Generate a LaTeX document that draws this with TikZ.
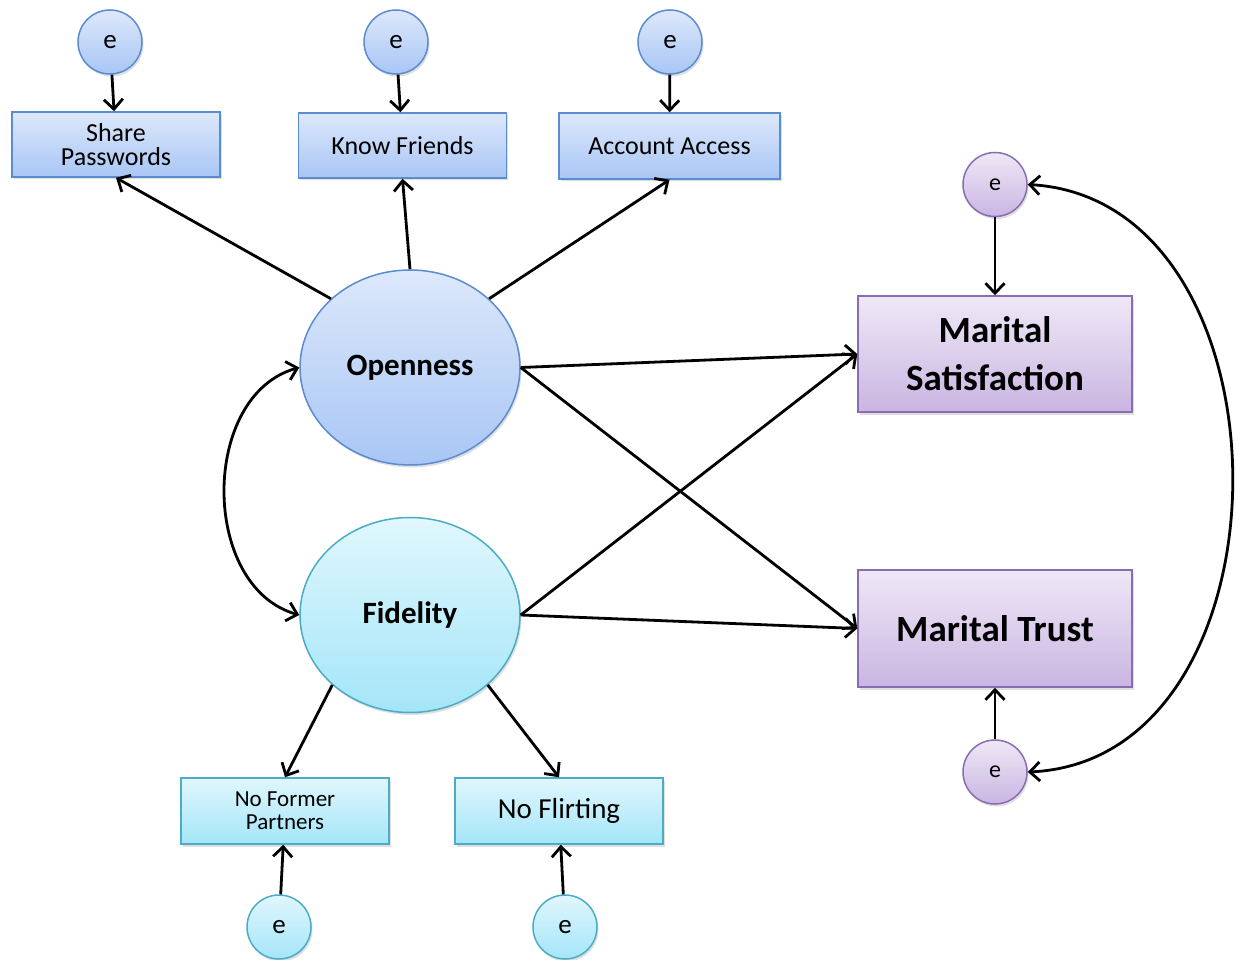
\documentclass[tikz,border=0pt]{standalone}
\usepackage{fontspec}
\setmainfont{Carlito}
\usetikzlibrary{shapes.geometric,arrows.meta,shadows}
\definecolor{bluetop}{HTML}{DDE8FB}
\definecolor{bluebot}{HTML}{A8C6F5}
\definecolor{blueedge}{HTML}{5B8BD0}
\definecolor{cyantop}{HTML}{E0F7FD}
\definecolor{cyanbot}{HTML}{A4E5F8}
\definecolor{cyanedge}{HTML}{4BACC6}
\definecolor{purptop}{HTML}{EEE8F6}
\definecolor{purpbot}{HTML}{CAB5E2}
\definecolor{purpedge}{HTML}{8A6CB0}
\tikzset{
  shd/.style={drop shadow={opacity=0.25,shadow xshift=1.5pt,shadow yshift=-2.5pt}},
  bluefill/.style={top color=bluetop,bottom color=bluebot,draw=blueedge,line width=1.5pt,shd},
  cyanfill/.style={top color=cyantop,bottom color=cyanbot,draw=cyanedge,line width=1.5pt,shd},
  purpfill/.style={top color=purptop,bottom color=purpbot,draw=purpedge,line width=1.5pt,shd},
  errc/.style={circle,minimum size=64pt,inner sep=0pt,font=\fontsize{27}{27}\selectfont},
  obsbox/.style={rectangle,minimum width=208pt,minimum height=65pt,inner sep=0pt,align=center,font=\fontsize{26}{24}\selectfont},
  latent/.style={ellipse,minimum width=220pt,minimum height=195pt,inner sep=0pt,font=\bfseries\fontsize{31}{31}\selectfont},
  outbox/.style={rectangle,minimum width=274pt,minimum height=116pt,inner sep=0pt,align=center,font=\bfseries\fontsize{37}{48}\selectfont},
  arr/.style={-{Straight Barb[length=10pt,width=19pt,line width=2.8pt]},line width=2.8pt,black},
  darr/.style={{Straight Barb[length=10pt,width=19pt,line width=2.8pt]}-{Straight Barb[length=10pt,width=19pt,line width=2.8pt]},line width=2.8pt,black}
}
\begin{document}
\begin{tikzpicture}[x=1pt,y=-1pt]
\useasboundingbox (0,0) rectangle (1236,960);
\fill[white] (0,0) rectangle (1236,960);
% error circles top
\node[errc,bluefill] (e1) at (110,42) {e};
\node[errc,bluefill] (e2) at (396,42) {e};
\node[errc,bluefill] (e3) at (670,42) {e};
% indicator boxes top
\node[obsbox,bluefill] (sp) at (116,144.5) {Share\\Passwords};
\node[obsbox,bluefill] (kf) at (402.5,145.5) {Know Friends};
\node[obsbox,bluefill,minimum width=221pt,minimum height=66pt] (aa) at (669.5,146) {Account Access};
% latent
\node[latent,bluefill] (op) at (410,367.5) {Openness};
\node[latent,cyanfill] (fi) at (410,615) {Fidelity};
% outcomes
\node[outbox,purpfill] (ms) at (995,354) {Marital\\Satisfaction};
\node[outbox,purpfill,minimum height=117pt] (mt) at (995,628.5) {Marital Trust};
\node[errc,purpfill,font=\fontsize{24}{24}\selectfont] (ep1) at (995,184.5) {e};
\node[errc,purpfill,font=\fontsize{24}{24}\selectfont] (ep2) at (995,772) {e};
% fidelity indicators
\node[obsbox,cyanfill,minimum height=66pt,font=\fontsize{23}{23}\selectfont] (nfp) at (285,811) {No Former\\Partners};
\node[obsbox,cyanfill,minimum height=66pt,font=\fontsize{29}{29}\selectfont] (nfl) at (559,811) {No Flirting};
\node[errc,cyanfill] (e4) at (279,927) {e};
\node[errc,cyanfill] (e5) at (565,927) {e};
% arrows
\draw[arr] (e1) -- (sp);
\draw[arr] (e2) -- (kf);
\draw[arr] (e3) -- (aa);
\draw[arr] (op.139) -- (sp.south);
\draw[arr] (op.north) -- (kf.south);
\draw[arr] (op.41) -- (aa.south);
\draw[arr] (op.east) -- (ms.west);
\draw[arr] (op.east) -- (mt.west);
\draw[arr] (fi.east) -- (ms.west);
\draw[arr] (fi.east) -- (mt.west);
\draw[arr] (fi.222) -- (nfp.north);
\draw[arr] (fi.318) -- (nfl.north);
\draw[arr] (e4) -- (nfp);
\draw[arr] (e5) -- (nfl);
\draw[arr] (ep1) -- (ms);
\draw[arr] (ep2) -- (mt);
\draw[darr] (op.west) .. controls (200,395) and (200,587) .. (fi.west);
\draw[darr] (ep1.east) .. controls (1300,200) and (1300,760) .. (ep2.east);
\end{tikzpicture}
\end{document}
